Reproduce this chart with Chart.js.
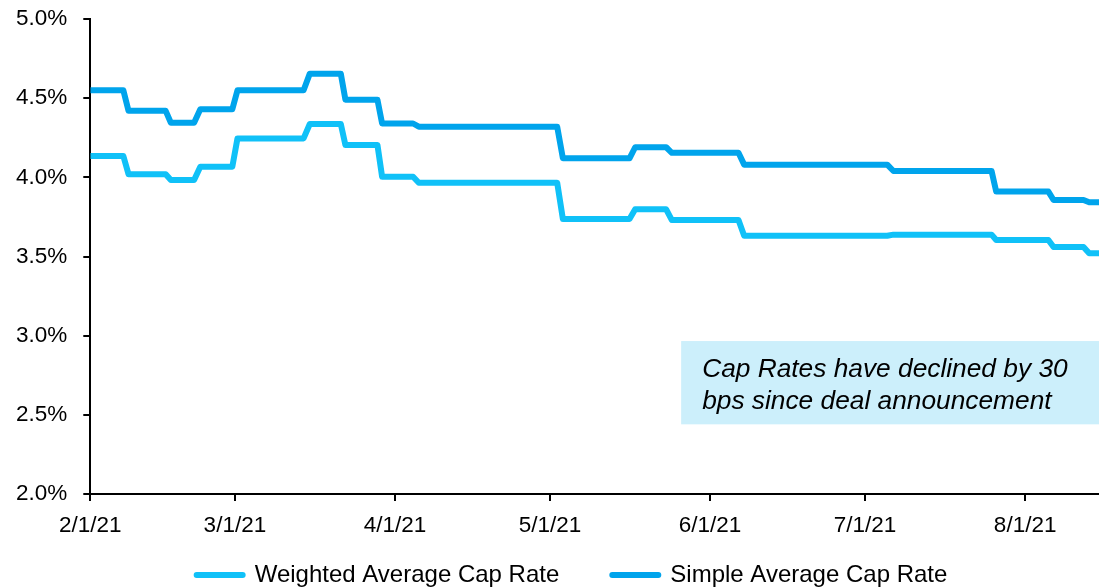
<!DOCTYPE html>
<html>
<head>
<meta charset="utf-8">
<title>Cap Rates</title>
<script src="https://cdn.jsdelivr.net/npm/chart.js@4.4.1/dist/chart.umd.min.js"></script>
<style>
    html, body { margin: 0; padding: 0; background: #fff; }
</style>
</head>
<body>
<canvas id="capRateChart" width="1099" height="588"></canvas>
<script>
// Days since 2/1/21 where each step in the cap rates starts and ends
const stepStart = [6.4, 14.6, 20.1, 27.5, 41.3, 48.5, 55.6, 62.5, 90.4, 104.4, 111.5, 125.5, 154.3, 174.5, 185.5, 192.3];
const stepEnd = [7.4, 15.6, 21.3, 28.5, 42.5, 49.4, 56.5, 63.6, 91.5, 105.5, 112.6, 126.6, 155.5, 175.4, 186.5, 193.4];
const lastDay = 195.3;

// Cap rate level (%) before the first step and after each step
const weightedLevels = [4.135, 4.02, 3.983, 4.067, 4.246, 4.337, 4.204, 4.004, 3.966, 3.737, 3.798, 3.73, 3.631, 3.638, 3.604, 3.56, 3.52];
const simpleLevels = [4.55, 4.42, 4.345, 4.43, 4.55, 4.655, 4.49, 4.34, 4.32, 4.12, 4.19, 4.155, 4.08, 4.04, 3.91, 3.857, 3.842];

const tickDays = [0, 28, 59, 89, 120, 150, 181];
const tickLabels = ['2/1/21', '3/1/21', '4/1/21', '5/1/21', '6/1/21', '7/1/21', '8/1/21'];

const seriesNames = ['Weighted Average Cap Rate', 'Simple Average Cap Rate'];
const noteLines = ['Cap Rates have declined by 30', 'bps since deal announcement'];
const noteBox = { fromDay: 114.4, top: 2.966, bottom: 2.44 };

function buildSteps(levels) {
    const points = [{ x: 0, y: levels[0] }];
    stepStart.forEach((start, i) => {
        points.push({ x: start, y: levels[i] });
        points.push({ x: stepEnd[i], y: levels[i + 1] });
    });
    points.push({ x: lastDay, y: levels[levels.length - 1] });
    return points;
}

// Shaded call-out box with the italic note
const notePlugin = {
    id: 'note',
    afterDatasetsDraw(chart) {
        const { ctx, chartArea, scales: { x, y } } = chart;
        const left = x.getPixelForValue(noteBox.fromDay);
        const top = y.getPixelForValue(noteBox.top);
        const bottom = y.getPixelForValue(noteBox.bottom);
        ctx.save();
        ctx.fillStyle = '#CCEFFB';
        ctx.fillRect(left, top, chartArea.right - left, bottom - top);
        ctx.fillStyle = '#000';
        ctx.font = 'italic 26.3px "Liberation Sans", Arial, sans-serif';
        ctx.textBaseline = 'alphabetic';
        noteLines.forEach((line, i) => ctx.fillText(line, left + 21, top + 36 + i * 31.6));
        ctx.restore();
    }
};

// The legend sits a bit right of centre and tight under the axis labels
// (only the top edge moves so the legend's clip box still reaches the bottom)
const legendOffset = {
    id: 'legendOffset',
    afterLayout(chart, args, opts) {
        const legend = chart.legend;
        if (!legend) return;
        legend.left += opts.x;
        legend.right += opts.x;
        legend.top += opts.y;
    }
};

Chart.defaults.font.family = '"Liberation Sans", Arial, sans-serif';
Chart.defaults.color = '#000';

const lineStyle = {
    borderWidth: 6,
    pointRadius: 0,
    tension: 0,
    borderJoinStyle: 'round',
    fill: false
};

new Chart(document.getElementById('capRateChart'), {
    type: 'line',
    data: {
        datasets: [
            { ...lineStyle, label: seriesNames[0], data: buildSteps(weightedLevels), borderColor: '#10C1F8', backgroundColor: '#10C1F8' },
            { ...lineStyle, label: seriesNames[1], data: buildSteps(simpleLevels), borderColor: '#00A4EC', backgroundColor: '#00A4EC' }
        ]
    },
    options: {
        responsive: false,
        animation: false,
        layout: { padding: { top: 19, left: 0, right: 0, bottom: 0 } },
        scales: {
            x: {
                type: 'linear',
                min: 0,
                max: lastDay,
                border: { color: '#000', width: 2 },
                grid: { drawOnChartArea: false, tickLength: 7, color: '#000', lineWidth: 2 },
                afterBuildTicks: scale => { scale.ticks = tickDays.map(value => ({ value })); },
                ticks: {
                    autoSkip: false,
                    maxRotation: 0,
                    padding: 11,
                    font: { size: 22.5 },
                    callback: value => tickLabels[tickDays.indexOf(value)]
                }
            },
            y: {
                min: 2,
                max: 5,
                border: { color: '#000', width: 2 },
                grid: { drawOnChartArea: false, tickLength: 7, color: '#000', lineWidth: 2 },
                ticks: {
                    stepSize: 0.5,
                    padding: 16,
                    font: { size: 22.5 },
                    callback: value => value.toFixed(1) + '%'
                },
                // let the plot run right up to the 5.0% tick
                afterFit: scale => {
                    scale.paddingTop = 0;
                    scale.paddingBottom = 0;
                }
            }
        },
        plugins: {
            legend: {
                position: 'bottom',
                maxHeight: 38,
                labels: { boxWidth: 46, boxHeight: 0, padding: 53, font: { size: 24 } }
            },
            legendOffset: { x: 22.5, y: -40 },
            tooltip: { enabled: false }
        }
    },
    plugins: [notePlugin, legendOffset]
});
</script>
</body>
</html>
